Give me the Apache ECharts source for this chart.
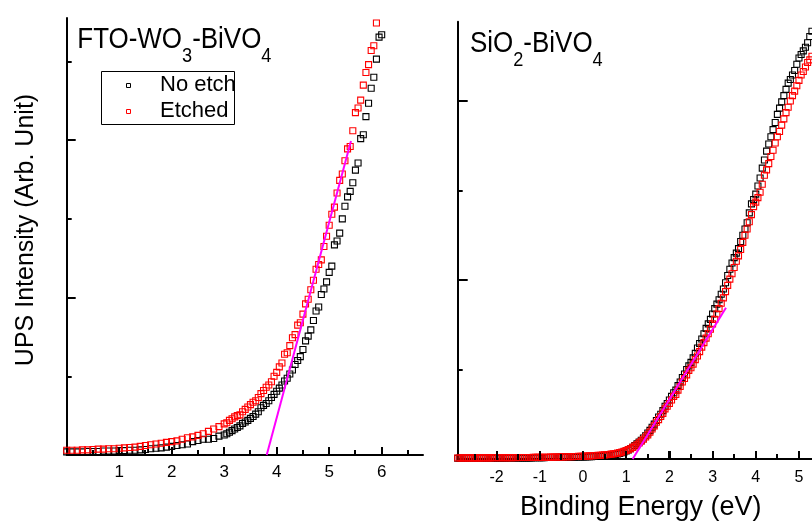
<!DOCTYPE html>
<html>
<head>
<meta charset="utf-8">
<title>UPS valence band spectra</title>
<script src="https://cdn.jsdelivr.net/npm/echarts@6/dist/echarts.min.js"></script>
<style>
  html, body { margin: 0; padding: 0; background: #fff; }
  #chart { width: 812px; height: 527px; }
</style>
</head>
<body>
<div id="chart"></div>
<script>
// ---------- FTO-WO3-BiVO4 (left panel) ----------
// binding energy grid: 0.0-3.0 eV every 0.1 eV, then 3.05-6.05 eV every 0.05 eV
const leftLowStart = 0.0, leftLowStep = 0.1;
const leftHighStart = 3.05, leftHighStep = 0.05;

const noEtchLeftLow = [0.04,0.04,0.04,0.04,0.045,0.045,0.045,0.05,0.05,0.05,0.055,0.055,0.06,0.06,0.065,0.07,0.08,0.085,0.09,0.10,0.11,0.12,0.13,0.14,0.17,0.185,0.20,0.20,0.21,0.24,0.255];
const noEtchLeftHigh = [0.27,0.29,0.31,0.33,0.35,0.37,0.40,0.42,0.44,0.465,0.49,0.52,0.55,0.60,0.63,0.655,0.69,0.73,0.77,0.81,0.85,0.89,0.94,0.975,1.03,1.08,1.15,1.20,1.25,1.34,1.45,1.51,1.59,1.71,1.83,1.88,2.04,2.11,2.20,2.32,2.40,2.67,2.72,2.82,3.00,3.16,3.28,3.35,3.46,3.62,3.71,4.02,4.07,4.30,4.47,4.66,4.80,5.03,5.31,5.34,5.56];

const etchedLeftLow = [0.06,0.06,0.06,0.065,0.065,0.07,0.075,0.075,0.08,0.08,0.085,0.09,0.095,0.10,0.11,0.12,0.13,0.14,0.15,0.16,0.17,0.18,0.20,0.22,0.23,0.25,0.27,0.30,0.33,0.36,0.395];
const etchedLeftHigh = [0.41,0.44,0.46,0.485,0.50,0.51,0.55,0.58,0.61,0.64,0.67,0.69,0.73,0.78,0.82,0.86,0.89,0.93,1.00,1.05,1.12,1.17,1.28,1.30,1.39,1.49,1.53,1.65,1.68,1.79,1.92,1.98,2.10,2.22,2.36,2.42,2.48,2.65,2.78,2.92,3.06,3.15,3.33,3.49,3.57,3.74,3.89,3.92,4.12,4.35,4.41,4.51,4.70,4.86,4.96,5.14,5.20,5.49,5.62];

// linear fit of the leading edge
const fitLeftEnergy = [3.81, 5.415];
const fitLeftIntensity = [0, 3.99];

// ---------- SiO2-BiVO4 (right panel) ----------
// binding energy grid: -2.90-0.95 eV and 1.00-5.30 eV, every 0.05 eV
const rightLowStart = -2.9, rightHighStart = 1.0, rightStep = 0.05;

const noEtchRightLow = [0.008,0.008,0.009,0.008,0.008,0.009,0.008,0.009,0.009,0.008,0.009,0.009,0.009,0.010,0.009,0.009,0.010,0.010,0.010,
  0.010,0.010,0.011,0.010,0.011,0.011,0.011,0.012,0.011,0.012,0.012,0.012,0.013,0.012,0.013,0.013,0.014,0.014,0.014,0.015,
  0.015,0.015,0.016,0.016,0.016,0.017,0.017,0.018,0.018,0.018,0.019,0.019,0.020,0.020,0.021,0.021,0.022,0.022,0.023,0.024,
  0.024,0.025,0.026,0.027,0.028,0.029,0.030,0.032,0.034,0.036,0.038,0.041,0.044,0.048,0.052,0.057,0.063,0.070,0.079];
const noEtchRightHigh = [0.09,0.10,0.115,0.13,0.15,0.17,0.19,0.21,0.235,0.26,0.29,0.32,0.355,0.39,0.43,0.47,0.50,0.54,0.59,0.62,0.66,0.70,0.74,0.77,0.82,0.86,0.91,0.95,1.00,1.04,1.08,1.13,1.18,1.24,1.29,1.34,1.40,1.46,1.51,1.56,1.62,1.68,1.73,1.78,1.84,1.90,1.97,2.05,2.12,2.19,2.25,2.30,2.35,2.43,2.50,2.57,2.64,2.75,2.85,2.90,2.96,3.05,3.14,3.25,3.34,3.44,3.52,3.60,3.68,3.76,3.85,3.92,3.99,4.06,4.13,4.20,4.24,4.29,4.34,4.41,4.48,4.52,4.56,4.60,4.65,4.72,4.78];

const etchedRightLow = [0.012,0.012,0.013,0.012,0.012,0.013,0.012,0.013,0.013,0.012,0.013,0.013,0.013,0.014,0.013,0.013,0.014,0.014,0.014,
  0.014,0.014,0.015,0.014,0.015,0.015,0.015,0.016,0.015,0.016,0.016,0.016,0.017,0.016,0.017,0.017,0.018,0.018,0.018,0.019,
  0.019,0.019,0.020,0.020,0.021,0.021,0.022,0.022,0.023,0.023,0.024,0.025,0.025,0.026,0.027,0.028,0.028,0.029,0.030,0.031,
  0.032,0.033,0.035,0.036,0.037,0.039,0.040,0.042,0.044,0.046,0.048,0.051,0.054,0.057,0.061,0.066,0.071,0.077,0.085];
const etchedRightHigh = [0.095,0.105,0.115,0.13,0.145,0.16,0.18,0.20,0.22,0.245,0.27,0.30,0.335,0.37,0.41,0.44,0.475,0.51,0.56,0.59,0.62,0.66,0.70,0.72,0.77,0.81,0.86,0.90,0.94,0.99,1.02,1.06,1.11,1.15,1.20,1.25,1.30,1.35,1.40,1.45,1.51,1.56,1.62,1.68,1.74,1.80,1.87,1.94,2.01,2.07,2.14,2.21,2.27,2.34,2.42,2.50,2.57,2.65,2.73,2.82,2.87,2.92,2.98,3.07,3.17,3.23,3.30,3.38,3.45,3.53,3.60,3.66,3.73,3.80,3.87,3.93,4.00,4.06,4.11,4.17,4.23,4.29,4.33,4.38,4.43,4.46,4.50];

const fitRightEnergy = [1.15, 3.31];
const fitRightIntensity = [0, 1.69];

// axis ranges and tick values (eV)
const leftXRange = [0, 6.787], rightXRange = [-2.9, 5.3];
const leftMajorTicks = [1, 2, 3, 4, 5, 6];
const leftMinorTicks = [0.5, 1.5, 2.5, 3.5, 4.5, 5.5, 6.5];
const rightMajorTicks = [-2, -1, 0, 1, 2, 3, 4, 5];
const rightMinorTicks = [-2.5, -1.5, -0.5, 0.5, 1.5, 2.5, 3.5, 4.5];
const leftYMax = 5.553, rightYMax = 4.886;

const seriesNames = ['No etch', 'Etched'];

// ---------- helpers ----------
function pairs(start, step, values) {
  return values.map((v, i) => [+(start + i * step).toFixed(2), v]);
}
function zipPairs(xs, ys) { return xs.map((x, i) => [x, ys[i]]); }

const FONT = '"Liberation Sans", Arial, Helvetica, sans-serif';
const BLACK = '#000000';
const RED = '#ff0000';
const MAGENTA = '#ff00ff';

function energyAxis(grid, range, labels, margin, fontSize) {
  return {
    type: 'value', gridIndex: grid, min: range[0], max: range[1], position: 'bottom',
    axisLine: { show: true, onZero: false, lineStyle: { color: BLACK, width: 2 } },
    axisTick: { show: true, inside: true, length: 8, customValues: labels, lineStyle: { color: BLACK, width: 2 } },
    axisLabel: { show: true, customValues: labels, margin, color: BLACK, fontSize, fontFamily: FONT },
    splitLine: { show: false }
  };
}
function yAxisOf(grid, max, ticks, length, showLine) {
  return {
    type: 'value', gridIndex: grid, min: 0, max, position: 'left',
    axisLine: { show: showLine, onZero: false, lineStyle: { color: BLACK, width: 2 } },
    axisTick: { show: true, inside: true, length, customValues: ticks, lineStyle: { color: BLACK, width: 2 } },
    axisLabel: { show: false },
    splitLine: { show: false }
  };
}
function scatter(name, xi, yi, data, color) {
  return {
    type: 'scatter', name, xAxisIndex: xi, yAxisIndex: yi, data,
    symbol: 'rect', symbolSize: 6, silent: true, clip: true,
    itemStyle: { color: 'rgba(0,0,0,0)', borderColor: color, borderWidth: 1.1, opacity: 1 }
  };
}
function fitLine(xi, yi, data) {
  return {
    type: 'line', xAxisIndex: xi, yAxisIndex: yi, data,
    showSymbol: false, silent: true, z: 5,
    lineStyle: { color: MAGENTA, width: 2 }
  };
}

// chemical formula with subscripts, drawn as a horizontally condensed group
const measureCtx = document.createElement('canvas').getContext('2d');
function textWidth(str, size) {
  measureCtx.font = size + 'px ' + FONT;
  return measureCtx.measureText(str).width;
}
function formulaLabel(parts, left, baseline) {
  const MAIN = 30, SUB = 21;
  const children = [];
  let x = 0;
  parts.forEach(([t, isSub]) => {
    const size = isSub ? SUB : MAIN;
    const base = isSub ? 13 : 0;
    children.push({
      type: 'text', x, y: base - 0.3465 * size,
      style: { text: t, font: size + 'px ' + FONT, fill: BLACK,
               align: 'left', verticalAlign: 'middle', textAlign: 'left', textVerticalAlign: 'middle' }
    });
    x += textWidth(t, size);
  });
  return { type: 'group', x: left, y: baseline, scaleX: 0.865, scaleY: 1, children, silent: true };
}

// ---------- chart ----------
const chart = echarts.init(document.getElementById('chart'), null, { renderer: 'canvas' });

const decorations = [
  // axis titles
  {
    type: 'text', x: 26.3, y: 230, rotation: Math.PI / 2, silent: true,
    style: { text: 'UPS Intensity (Arb. Unit)', font: '25px ' + FONT, fill: BLACK,
             align: 'center', verticalAlign: 'middle', textAlign: 'center', textVerticalAlign: 'middle' }
  },
  {
    type: 'text', x: 640.8, y: 507.3, silent: true,
    style: { text: 'Binding Energy (eV)', font: '27px ' + FONT, fill: BLACK,
             align: 'center', verticalAlign: 'middle', textAlign: 'center', textVerticalAlign: 'middle' }
  },
  // panel titles
  formulaLabel([['FTO-WO', false], ['3', true], ['-BiVO', false], ['4', true]], 77.3, 50),
  formulaLabel([['SiO', false], ['2', true], ['-BiVO', false], ['4', true]], 470, 54.5),
  // legend
  {
    type: 'group', silent: true,
    children: [
      { type: 'rect', shape: { x: 101.5, y: 71.5, width: 133, height: 53 },
        style: { fill: '#ffffff', stroke: BLACK, lineWidth: 1 } },
      { type: 'rect', shape: { x: 126.5, y: 83.5, width: 4, height: 4 },
        style: { fill: 'none', stroke: BLACK, lineWidth: 1 } },
      { type: 'rect', shape: { x: 126.5, y: 109.5, width: 4, height: 4 },
        style: { fill: 'none', stroke: RED, lineWidth: 1 } },
      { type: 'text', x: 160, y: 84.6,
        style: { text: seriesNames[0], font: '22px ' + FONT, fill: BLACK,
                 align: 'left', verticalAlign: 'middle', textAlign: 'left', textVerticalAlign: 'middle' } },
      { type: 'text', x: 160, y: 111.3,
        style: { text: seriesNames[1], font: '22px ' + FONT, fill: BLACK,
                 align: 'left', verticalAlign: 'middle', textAlign: 'left', textVerticalAlign: 'middle' } }
    ]
  }
];

const option = {
  animation: false,
  backgroundColor: '#ffffff',
  grid: [
    { left: 66.7, top: 18, width: 356.3, height: 437 },
    { left: 457.7, top: 21.7, width: 354.24, height: 437.3 }
  ],
  xAxis: [
    energyAxis(0, leftXRange, leftMajorTicks, 9, 17),
    energyAxis(1, rightXRange, rightMajorTicks, 11, 16)
  ],
  yAxis: [
    yAxisOf(0, leftYMax, [0, 2, 4], 9, true),
    yAxisOf(0, leftYMax, [1, 3, 5], 5, false),
    yAxisOf(1, rightYMax, [0, 2, 4], 10, true),
    yAxisOf(1, rightYMax, [1, 3], 5, false)
  ],
  series: [
    scatter(seriesNames[0], 0, 0,
      pairs(leftLowStart, leftLowStep, noEtchLeftLow).concat(pairs(leftHighStart, leftHighStep, noEtchLeftHigh)), BLACK),
    scatter(seriesNames[1], 0, 0,
      pairs(leftLowStart, leftLowStep, etchedLeftLow).concat(pairs(leftHighStart, leftHighStep, etchedLeftHigh)), RED),
    fitLine(0, 0, zipPairs(fitLeftEnergy, fitLeftIntensity)),
    scatter(seriesNames[0], 1, 2,
      pairs(rightLowStart, rightStep, noEtchRightLow).concat(pairs(rightHighStart, rightStep, noEtchRightHigh)), BLACK),
    scatter(seriesNames[1], 1, 2,
      pairs(rightLowStart, rightStep, etchedRightLow).concat(pairs(rightHighStart, rightStep, etchedRightHigh)), RED),
    fitLine(1, 2, zipPairs(fitRightEnergy, fitRightIntensity))
  ],
  graphic: decorations
};

chart.setOption(option);

// inward minor and major tick marks along the energy axes, placed through the axis scales
function energyTicks(xAxisIndex, yAxisIndex, values, length) {
  const yPix = Math.round(chart.convertToPixel({ yAxisIndex: yAxisIndex }, 0));
  return values.map(v => {
    const xPix = Math.round(chart.convertToPixel({ xAxisIndex: xAxisIndex }, v));
    return {
      type: 'line', silent: true, z: 100,
      shape: { x1: xPix, y1: yPix + 1, x2: xPix, y2: yPix - length },
      style: { stroke: BLACK, lineWidth: 2 }
    };
  });
}
let tickMarks = [];
try {
  tickMarks = [].concat(
    energyTicks(0, 0, leftMajorTicks, 8),
    energyTicks(0, 0, leftMinorTicks, 5),
    energyTicks(1, 2, rightMajorTicks, 8),
    energyTicks(1, 2, rightMinorTicks, 5)
  );
} catch (e) {
  tickMarks = [];
}
if (tickMarks.length) {
  chart.setOption({ graphic: decorations.concat(tickMarks) });
}
</script>
</body>
</html>
